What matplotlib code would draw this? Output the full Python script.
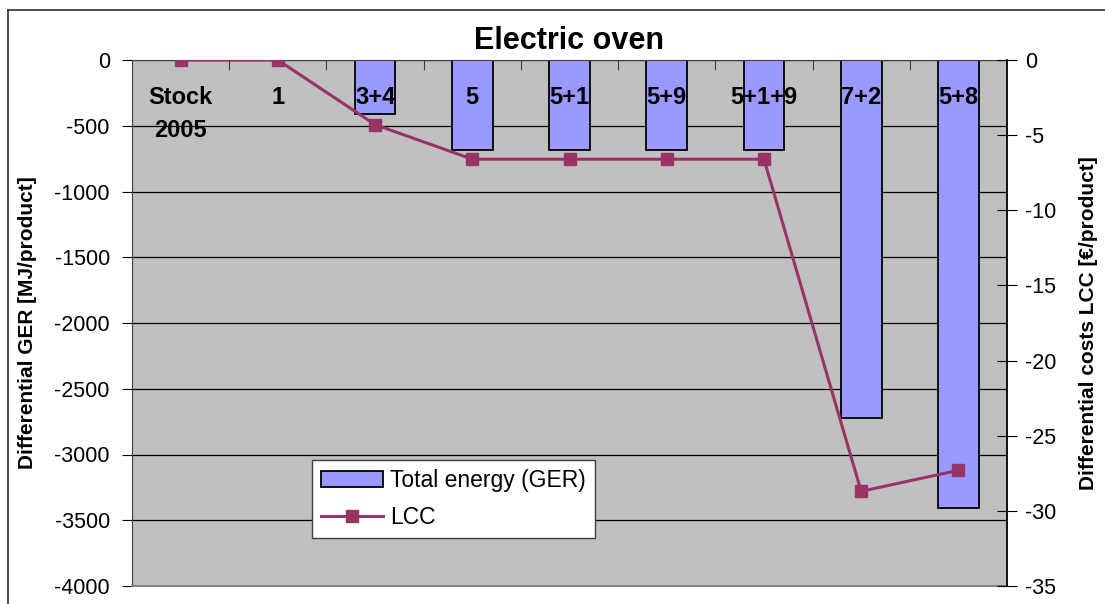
import matplotlib.pyplot as plt
import numpy as np
from matplotlib.lines import Line2D
from matplotlib.patches import Patch

plt.rcParams["font.family"] = ["Liberation Sans", "DejaVu Sans"]
plt.rcParams["axes.unicode_minus"] = False

categories = ["Stock\n2005", "1", "3+4", "5", "5+1", "5+9", "5+1+9", "7+2", "5+8"]
ger_values = [0, 0, -410, -685, -685, -685, -685, -2720, -3405]
lcc_values = [0, 0, -4.3, -6.6, -6.6, -6.6, -6.6, -28.7, -27.3]

BAR_COLOR = "#9999FF"
LINE_COLOR = "#993366"
BG_COLOR = "#C0C0C0"

fig = plt.figure(figsize=(11.05, 6.04), dpi=100)
ax = fig.add_axes([132 / 1105, 1 - 586 / 604, 875 / 1105, 526 / 604])
ax.set_facecolor(BG_COLOR)

x = np.arange(len(categories))
ax.bar(x, ger_values, width=0.42, color=BAR_COLOR, edgecolor="black", linewidth=1.3, zorder=2)
ax.set_xlim(-0.5, len(categories) - 0.5)
ax.set_ylim(-4000, 0)
ax.set_yticks(np.arange(-4000, 1, 500))
ax.yaxis.grid(True, color="black", linewidth=0.9, zorder=1)
ax.set_axisbelow(True)
ax.tick_params(axis="y", direction="out", length=7, labelsize=15.5, pad=9, color="black")
ax.set_ylabel("Differential GER [MJ/product]", fontsize=15, fontweight="bold", labelpad=12)

# category boundaries as small ticks hanging from the zero line
ax.set_xticks(np.arange(0.5, len(categories) - 1, 1.0))
ax.tick_params(axis="x", which="both", bottom=False, labelbottom=False, top=True,
               direction="in", length=7, color="#404040")
for xi, label in zip(x, categories):
    ax.text(xi, -200, label, ha="center", va="top", fontsize=17, fontweight="bold",
            linespacing=1.55, zorder=4)

ax.spines["top"].set_color("#404040")
ax.spines["left"].set_color("#404040")
ax.spines["bottom"].set_color("#808080")
ax.spines["bottom"].set_linewidth(1.5)
ax.spines["right"].set_visible(False)

ax2 = ax.twinx()
ax2.plot(x, lcc_values, color=LINE_COLOR, linewidth=2.2, marker="s", markersize=8.5, zorder=5)
ax2.set_ylim(-35, 0)
ax2.set_yticks(np.arange(-35, 1, 5))
ax2.tick_params(axis="y", direction="inout", length=14, labelsize=15.5, pad=6)
ax2.set_ylabel("Differential costs LCC [€/product]", fontsize=15, fontweight="bold", labelpad=16)
for side in ["top", "left", "bottom"]:
    ax2.spines[side].set_visible(False)
ax2.spines["right"].set_color("black")
ax2.spines["right"].set_linewidth(1.3)

ax.set_title("Electric oven", fontsize=22, fontweight="bold", pad=8)

handles = [
    Patch(facecolor=BAR_COLOR, edgecolor="black", linewidth=1.3, label="Total energy (GER)"),
    Line2D([0], [0], color=LINE_COLOR, linewidth=2.2, marker="s", markersize=8.5, label="LCC"),
]
leg = ax2.legend(handles=handles, loc="upper left", bbox_to_anchor=(180 / 875, 126 / 526),
                 fontsize=16.5, frameon=True, fancybox=False, framealpha=1,
                 edgecolor="#404040", handlelength=2.7, borderpad=0.4, labelspacing=0.6,
                 handletextpad=0.3, borderaxespad=0)
leg.get_frame().set_linewidth(1.0)

# outer chart border (left and top edges visible in the reference)
fig.add_artist(Line2D([8 / 1105, 8 / 1105], [0, 1 - 10 / 604], color="#303030", linewidth=1.2,
                      transform=fig.transFigure))
fig.add_artist(Line2D([8 / 1105, 1], [1 - 10 / 604, 1 - 10 / 604], color="#303030", linewidth=1.2,
                      transform=fig.transFigure))

fig.savefig("out.png", dpi=100)
